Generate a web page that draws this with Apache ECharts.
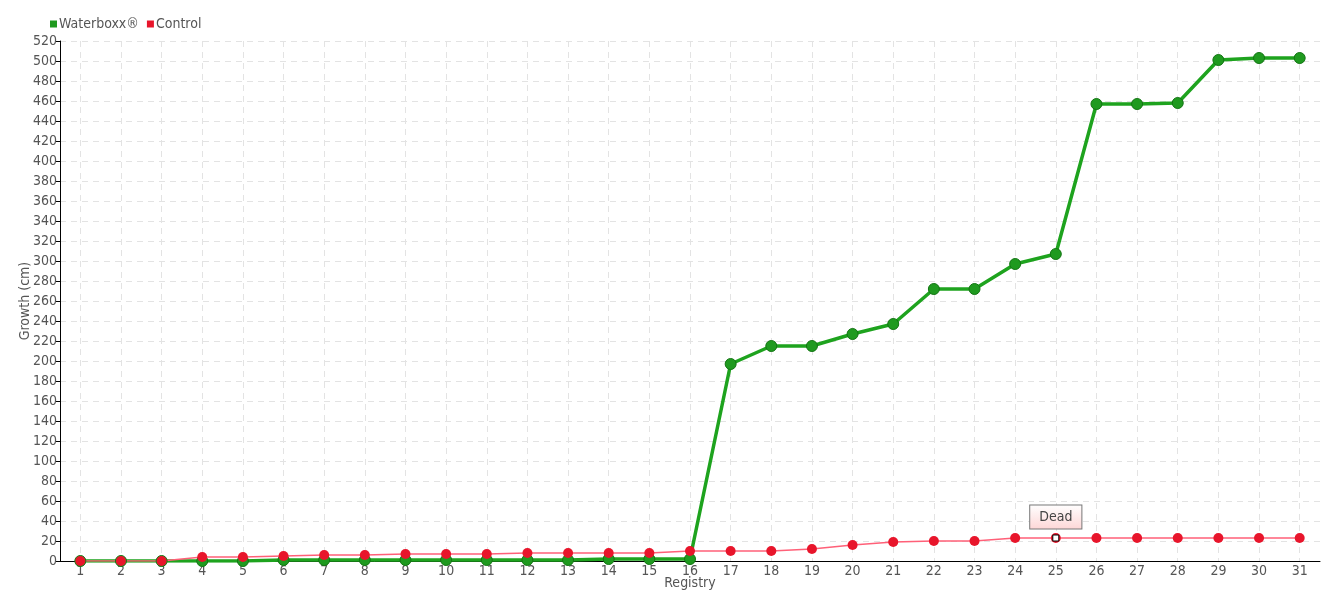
<!DOCTYPE html>
<html>
<head>
<meta charset="utf-8">
<script src="https://cdn.jsdelivr.net/npm/echarts@6/dist/echarts.min.js"></script>
<style>
html,body{margin:0;padding:0;background:#fff;}
#chart{width:1340px;height:600px;}
</style>
</head>
<body>
<div id="chart"></div>
<script>
var categories = ['1','2','3','4','5','6','7','8','9','10','11','12','13','14','15','16','17','18','19','20','21','22','23','24','25','26','27','28','29','30','31'];
var waterboxx = [0,0,0,0,0,1,1,1,1,1,1,1,1,2,2,2,197,215,215,227,237,272,272,297,307,457,457,458,501,503,503];
var control = [0,0,0,4,4,5,6,6,7,7,7,8,8,8,8,10,10,10,12,16,19,20,20,23,23,23,23,23,23,23,23];
var deadIndex = 24;
var deadLabel = 'Dead';

var FONT = "'Liberation Sans Narrow', 'DejaVu Sans Condensed', 'Roboto', sans-serif";
var chart = echarts.init(document.getElementById('chart'));
chart.setOption({
  animation: false,
  textStyle: {fontFamily: FONT},
  legend: {
    left: 45, top: 12,
    itemWidth: 7, itemHeight: 7, itemGap: 8,
    icon: 'rect',
    itemStyle: {borderWidth: 0},
    textStyle: {color: '#555', fontSize: 14, fontFamily: FONT, padding: [0,0,0,-3]},
    data: ['Waterboxx®', 'Control']
  },
  grid: {left: 60, right: 20, top: 41, bottom: 39, containLabel: false},
  xAxis: {
    type: 'category',
    data: categories,
    boundaryGap: true,
    name: 'Registry',
    nameLocation: 'middle',
    nameGap: 15,
    nameMoveOverlap: false,
    nameTextStyle: {color: '#555', fontSize: 14, fontFamily: FONT},
    axisLine: {lineStyle: {color: '#000', width: 1}},
    axisTick: {alignWithLabel: true, inside: true, length: 4, lineStyle: {color: '#000'}},
    axisLabel: {color: '#555', fontSize: 14, margin: 3, fontFamily: FONT},
    splitLine: {show: true, alignWithLabel: true, lineStyle: {color: '#e3e3e3', type: [6,5]}}
  },
  yAxis: {
    type: 'value',
    min: 0, max: 520, interval: 20,
    name: 'Growth (cm)',
    nameLocation: 'middle',
    nameGap: 28,
    nameMoveOverlap: false,
    nameTextStyle: {color: '#555', fontSize: 14, fontFamily: FONT},
    axisLine: {show: true, lineStyle: {color: '#000', width: 1}},
    axisTick: {show: true, length: 5, lineStyle: {color: '#000'}},
    axisLabel: {color: '#555', fontSize: 14, margin: 3, fontFamily: FONT},
    splitLine: {show: true, lineStyle: {color: '#e3e3e3', type: [6,5]}}
  },
  series: [
    {
      name: 'Waterboxx®',
      type: 'line',
      data: waterboxx,
      symbol: 'circle',
      symbolSize: 11,
      lineStyle: {color: '#1ea31e', width: 3.5},
      itemStyle: {color: '#1f9a1f', borderColor: '#137513', borderWidth: 1}
    },
    {
      name: 'Control',
      type: 'line',
      data: control,
      symbol: 'circle',
      symbolSize: 10,
      lineStyle: {color: '#ff6078', width: 1.5},
      itemStyle: {color: '#e8152b', borderColor: '#e8152b', borderWidth: 0},
      markPoint: {
        symbol: 'rect',
        symbolSize: 6,
        itemStyle: {color: '#fff', borderColor: '#000', borderWidth: 1},
        label: {
          show: true,
          position: 'top',
          distance: 6,
          formatter: deadLabel,
          color: '#444',
          fontSize: 14,
          fontFamily: FONT,
          backgroundColor: {
            type: 'linear', x: 0, y: 0, x2: 0, y2: 1,
            colorStops: [{offset: 0, color: '#ffffff'}, {offset: 1, color: '#fdd6d6'}]
          },
          borderColor: '#777',
          borderWidth: 1,
          padding: [5, 9, 4, 9]
        },
        data: [{coord: [deadIndex, control[deadIndex]]}]
      }
    }
  ]
});
</script>
</body>
</html>
